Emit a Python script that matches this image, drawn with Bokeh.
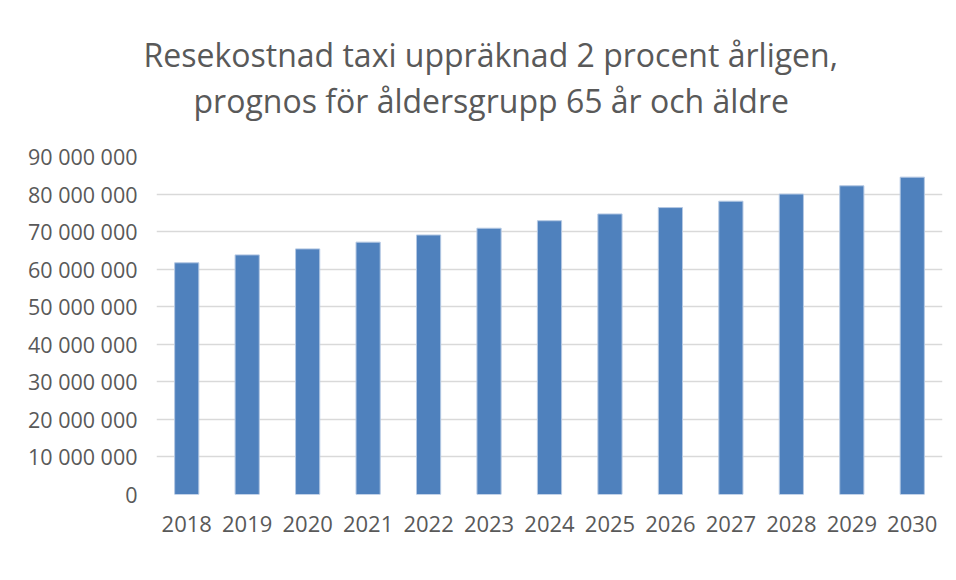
from bokeh.plotting import figure
from bokeh.models import FixedTicker, CustomJSTickFormatter, Title, ColumnDataSource
from bokeh.embed import file_html
from bokeh.resources import INLINE

years = ["2018", "2019", "2020", "2021", "2022", "2023", "2024",
         "2025", "2026", "2027", "2028", "2029", "2030"]
costs = [61_700_000, 63_800_000, 65_400_000, 67_200_000, 69_100_000, 70_900_000,
         72_900_000, 74_700_000, 76_400_000, 78_100_000, 80_000_000, 82_200_000, 84_500_000]
y_ticks = [0, 10_000_000, 20_000_000, 30_000_000, 40_000_000, 50_000_000,
           60_000_000, 70_000_000, 80_000_000, 90_000_000]
title_lines = ["Resekostnad taxi uppräknad 2 procent årligen,",
               "prognos för åldersgrupp 65 år och äldre"]

FONT = "Open Sans"
TXT = "#595959"

src = ColumnDataSource(data=dict(year=years, cost=costs))

p = figure(x_range=years, y_range=(y_ticks[0], y_ticks[-1]),
           width=944, height=560, output_backend="svg", toolbar_location=None,
           min_border_left=156, min_border_right=2, min_border_top=156, min_border_bottom=66)

p.vbar(x="year", top="cost", width=0.4, source=src,
       fill_color="#4f81bd", line_color="#b4c8e3", line_width=1)

p.outline_line_color = None
p.background_fill_color = "white"
p.border_fill_color = "white"

p.xgrid.grid_line_color = None
p.ygrid.grid_line_color = "#d9d9d9"
p.ygrid.grid_line_width = 1.5

p.yaxis.ticker = FixedTicker(ticks=y_ticks)
p.yaxis.formatter = CustomJSTickFormatter(
    code="return Math.round(tick).toString().replace(/\\B(?=(\\d{3})+(?!\\d))/g, ' ');")

for ax in (p.xaxis, p.yaxis):
    ax.axis_line_color = None
    ax.major_tick_line_color = None
    ax.minor_tick_line_color = None
    ax.major_tick_out = 0
    ax.major_label_text_font = FONT
    ax.major_label_text_color = TXT

p.yaxis.major_label_text_font_size = "21.5px"
p.xaxis.major_label_text_font_size = "22px"
p.yaxis.major_label_standoff = 19
p.xaxis.major_label_standoff = 21
p.x_range.range_padding = 0

# line 2 first (closest to frame), then line 1 above it
for line, off, so in [(title_lines[1], 37, 69), (title_lines[0], -13, -66)]:
    p.add_layout(Title(text=line, align="left", offset=off, standoff=so,
                       text_font=FONT, text_font_size="32px", text_font_style="normal",
                       text_color=TXT), "above")

open("out.html", "w").write(file_html(p, INLINE))
